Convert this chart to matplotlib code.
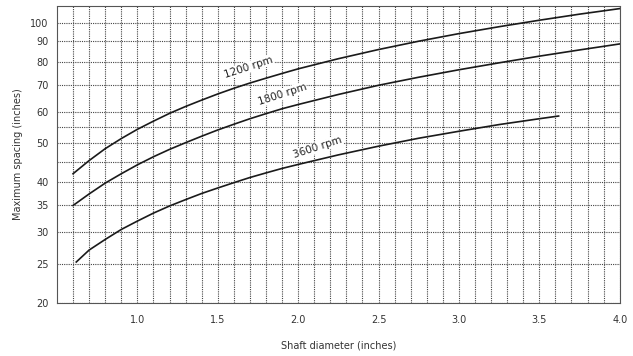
import numpy as np
import matplotlib.pyplot as plt
from matplotlib.ticker import FixedLocator, NullFormatter

# values (shaft diameter in inches -> max spacing in inches)
d_1200 = [0.6, 0.7, 0.8, 0.9, 1.0, 1.1, 1.2, 1.3, 1.4, 1.5, 1.6, 1.7, 1.8, 1.9, 2.0,
          2.25, 2.5, 2.75, 3.0, 3.25, 3.5, 3.75, 4.0]
s_1200 = [42.0, 45.3, 48.5, 51.4, 54.2, 56.8, 59.4, 61.8, 64.1, 66.4, 68.6, 70.7, 72.7,
          74.7, 76.7, 81.3, 85.7, 89.9, 93.9, 97.7, 101.4, 105.0, 108.4]

d_1800 = [0.6, 0.7, 0.8, 0.9, 1.0, 1.1, 1.2, 1.3, 1.4, 1.5, 1.6, 1.7, 1.8, 1.9, 2.0,
          2.25, 2.5, 2.75, 3.0, 3.25, 3.5, 3.75, 4.0]
s_1800 = [35.0, 37.4, 39.8, 42.0, 44.2, 46.3, 48.3, 50.2, 52.1, 54.0, 55.8, 57.6, 59.3,
          61.0, 62.5, 66.2, 69.8, 73.1, 76.3, 79.4, 82.5, 85.5, 88.5]

d_3600 = [0.62, 0.7, 0.8, 0.9, 1.0, 1.1, 1.2, 1.3, 1.4, 1.5, 1.6, 1.7, 1.8, 1.9, 2.0,
          2.25, 2.5, 2.75, 3.0, 3.25, 3.5, 3.62]
s_3600 = [25.3, 27.1, 28.8, 30.5, 32.0, 33.5, 34.9, 36.2, 37.5, 38.7, 39.9, 41.1, 42.2,
          43.3, 44.3, 46.8, 49.2, 51.5, 53.6, 55.7, 57.6, 58.5]

curve_labels = ['1200 rpm', '1800 rpm', '3600 rpm']
y_ticks = [20, 25, 30, 35, 40, 50, 60, 70, 80, 90, 100]
y_grid_extra = [45, 55]
x_ticks = [1.0, 1.5, 2.0, 2.5, 3.0, 3.5, 4.0]

fig = plt.figure(figsize=(6.33, 3.56), dpi=100)
ax = fig.add_axes([0.090, 0.149, 0.889, 0.834])

ax.set_yscale('log')
ax.set_xlim(0.5, 4.0)
ax.set_ylim(20, 110)

for d, s in [(d_1200, s_1200), (d_1800, s_1800), (d_3600, s_3600)]:
    ax.plot(d, s, color='#1a1a1a', lw=1.2, zorder=3)

ax.yaxis.set_major_locator(FixedLocator(y_ticks))
ax.yaxis.set_minor_locator(FixedLocator(y_grid_extra))
ax.yaxis.set_minor_formatter(NullFormatter())
ax.set_yticklabels([str(v) for v in y_ticks])
ax.xaxis.set_major_locator(FixedLocator(x_ticks))
ax.xaxis.set_minor_locator(FixedLocator(np.arange(0.6, 4.0, 0.1)))
ax.set_xticklabels([f'{v:.1f}' for v in x_ticks])

ax.grid(True, which='both', color='#444444', lw=0.8, ls=(0, (1, 1)), zorder=1)
ax.tick_params(which='both', length=0, labelsize=7, colors='#333333')
ax.tick_params(axis='x', pad=9)
ax.tick_params(axis='y', pad=6)
for sp in ax.spines.values():
    sp.set_color('#555555')
    sp.set_linewidth(0.8)
    sp.set_linestyle((0, (1, 1)))

ax.set_xlabel('Shaft diameter (inches)', fontsize=7, color='#333333', labelpad=11)
ax.set_ylabel('Maximum spacing (inches)', fontsize=7, color='#333333', labelpad=5)

# curve labels, placed just above each line
label_pos = [(1.69, 77.5), (1.90, 66.2), (2.12, 48.8)]
for txt, (x, y) in zip(curve_labels, label_pos):
    ax.text(x, y, txt, fontsize=7.5, color='#222222', rotation=18,
            ha='center', va='center', zorder=4,
            bbox=dict(facecolor='white', edgecolor='none', pad=0.5))

fig.savefig('out.png', dpi=100)
